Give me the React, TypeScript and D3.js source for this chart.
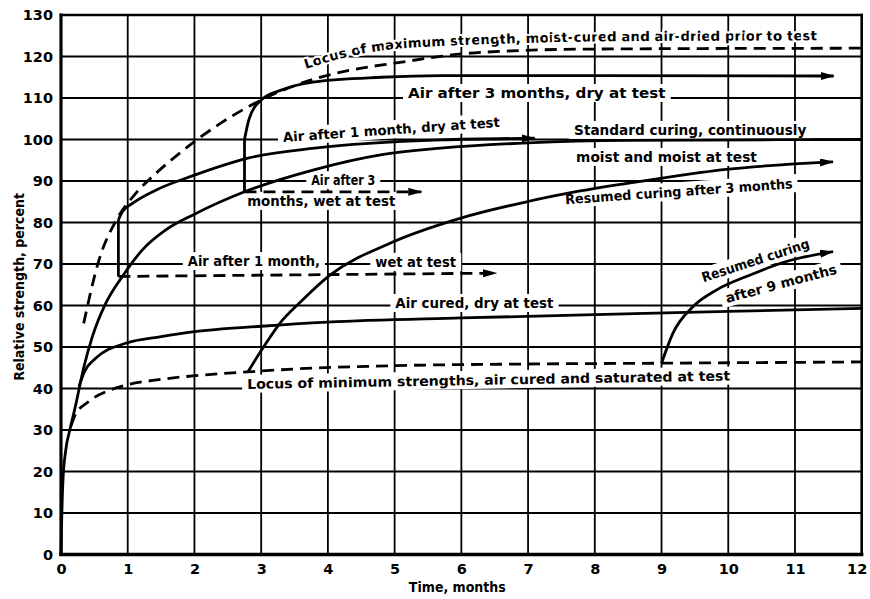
import { useEffect, useRef } from "react"
import * as d3 from "d3"

type Pt = [number, number]

// axis ticks
const xTicks = d3.range(0, 13)
const yTicks = d3.range(0, 131, 10)

// curves, [month, relative strength %]
const standardCuring: Pt[] = [
  [0, 0], [0.01, 8], [0.03, 18], [0.07, 25], [0.14, 30.5], [0.22, 36], [0.34, 45],
  [0.47, 52.5], [0.67, 60.5], [0.92, 67], [1.22, 73.4], [1.57, 78.2], [2, 82],
  [2.75, 87.4], [3.79, 92.7], [4.79, 96.3], [5.69, 97.9], [7, 99.2], [8.5, 99.8], [12, 100],
]
const airCured: Pt[] = [
  [0.27, 40.5], [0.35, 44], [0.52, 47.3], [0.97, 50.9], [1.5, 52.5], [2, 53.7],
  [3, 55], [4, 56], [6, 57], [8, 57.8], [10, 58.6], [12, 59.3],
]
const locusMin: Pt[] = [
  [0.15, 31], [0.2, 33.2], [0.41, 36.8], [0.7, 39.4], [0.92, 40.6], [1.5, 42.2],
  [2.17, 43.3], [2.8, 44], [3.5, 44.7], [5, 45.5], [7, 45.9], [9, 46.1], [12, 46.4],
]
const locusMax: Pt[] = [
  [0.34, 55.7], [0.57, 71], [0.83, 80.6], [1.12, 87], [1.42, 91.8], [1.8, 97],
  [2.4, 104], [3, 109.5], [3.8, 114.6], [4.3, 116.6], [5, 118.4], [6.3, 121],
  [8, 121.8], [12, 122],
]
const airAfter1Step: Pt[] = [[0.86, 67], [0.86, 80.6]]
const airAfter1Dry: Pt[] = [
  [0.86, 80.6], [0.92, 82.6], [1.07, 84.6], [1.42, 87.8], [2, 91.4], [2.8, 95.5],
  [3.8, 97.9], [5.7, 99.9], [7.1, 100.3],
]
const airAfter1Wet: Pt[] = [[0.86, 67], [6.52, 67.8]]
const airAfter3Step: Pt[] = [[2.75, 87.4], [2.75, 100]]
const airAfter3Dry: Pt[] = [
  [2.75, 100], [2.82, 105], [3, 109.5], [3.3, 111.9], [3.8, 113.9], [4.8, 115],
  [5.7, 115.4], [8, 115.4], [11.58, 115.3],
]
const airAfter3Wet: Pt[] = [[2.75, 87.4], [5.4, 87.4]]
const resumed3: Pt[] = [
  [2.8, 44], [3.04, 50.1], [3.28, 55.7], [3.6, 61], [4.03, 67.3], [4.93, 75],
  [5.98, 81], [6.98, 85], [7.78, 87.6], [9, 90.7], [9.97, 92.8], [11.57, 94.6],
]
const resumed9: Pt[] = [
  [9, 46.1], [9.17, 53.3], [9.47, 59.7], [9.82, 63.7], [10.32, 67.3], [10.87, 70.6], [11.57, 73],
]

// annotation text: start month, baseline value, horizontal length in months, angle
const labelText = [
  "Air after 3 months, dry at test",
  "Air after 1 month, dry at test",
  "Standard curing, continuously",
  "moist and moist at test",
  "Air after 3",
  "months, wet at test",
  "Resumed curing after 3 months",
  "Air after 1 month,",
  "wet at test",
  "Air cured, dry at test",
  "Locus of minimum strengths, air cured and saturated at test",
  "Resumed curing",
  "after 9 months",
]
const labelX = [5.2, 3.33, 7.69, 7.72, 3.75, 2.79, 7.56, 1.9, 4.71, 5.01, 2.79, 9.63, 9.98]
const labelY = [110, 99.4, 101.1, 94.6, 89, 84, 84.4, 69.5, 69.3, 59.4, 39.9, 65.6, 60.6]
const labelLen = [3.86, 3.25, 3.48, 2.71, 0.96, 2.22, 3.41, 1.98, 1.21, 2.37, 7.24, 1.6, 1.66]
const labelAngle = [0, -4, 0, 0, 0, 0, -4, 0, 0, 0, -1, -18, -15]

const locusMaxText = "Locus of maximum strength, moist-cured and air-dried prior to test"
const locusMaxTextPath: Pt[] = [
  [3.67, 117], [4.29, 119.9], [4.74, 121.3], [5.79, 122.6], [6.88, 123.2],
  [7.78, 123.6], [11.33, 123.9],
]

const W = 870
const H = 599
const FONT = "'DejaVu Sans Condensed', 'DejaVu Sans', sans-serif"

export default function App() {
  const svgRef = useRef<SVGSVGElement>(null)

  useEffect(() => {
    if (!svgRef.current) return
    const svg = d3.select(svgRef.current)
    svg.selectAll("*").remove()

    const x = d3.scaleLinear().domain([0, 12]).range([61, 861.7])
    const y = d3.scaleLinear().domain([0, 130]).range([554.5, 15])

    const defs = svg.append("defs")
    defs
      .append("marker")
      .attr("id", "arrow")
      .attr("viewBox", "0 0 14 8")
      .attr("refX", 13)
      .attr("refY", 4)
      .attr("markerWidth", 14)
      .attr("markerHeight", 8)
      .attr("markerUnits", "userSpaceOnUse")
      .attr("orient", "auto")
      .append("path")
      .attr("d", "M0,0L14,4L0,8Z")
      .attr("fill", "#000")

    const gGrid = svg.append("g")
    const gBg = svg.append("g")
    const gCurves = svg.append("g")
    const gText = svg.append("g")

    // grid
    gGrid
      .selectAll("line.v")
      .data(xTicks.slice(1, -1))
      .join("line")
      .attr("class", "v")
      .attr("x1", (d) => x(d))
      .attr("x2", (d) => x(d))
      .attr("y1", y(0))
      .attr("y2", y(130))
      .attr("stroke", "#000")
      .attr("stroke-width", 1.8)
    gGrid
      .selectAll("line.h")
      .data(yTicks.slice(1, -1))
      .join("line")
      .attr("class", "h")
      .attr("x1", x(0))
      .attr("x2", x(12))
      .attr("y1", (d) => y(d))
      .attr("y2", (d) => y(d))
      .attr("stroke", "#000")
      .attr("stroke-width", 1.8)

    // frame
    const frame = [
      { x1: 0, y1: 130, x2: 12, y2: 130, w: 2.6 },
      { x1: 12, y1: 0, x2: 12, y2: 130, w: 2.6 },
      { x1: 0, y1: 0, x2: 0, y2: 130, w: 3.2 },
      { x1: 0, y1: 0, x2: 12, y2: 0, w: 3.4 },
    ]
    gGrid
      .selectAll("line.f")
      .data(frame)
      .join("line")
      .attr("x1", (d) => x(d.x1))
      .attr("x2", (d) => x(d.x2))
      .attr("y1", (d) => y(d.y1))
      .attr("y2", (d) => y(d.y2))
      .attr("stroke", "#000")
      .attr("stroke-width", (d) => d.w)
      .attr("stroke-linecap", "square")

    // tick labels
    const xAxis = svg
      .append("g")
      .attr("transform", `translate(0,${y(0)})`)
      .call(d3.axisBottom(x).tickValues(xTicks).tickSize(0).tickPadding(9).tickFormat(d3.format("d")))
    const yAxis = svg
      .append("g")
      .attr("transform", `translate(${x(0)},0)`)
      .call(d3.axisLeft(y).tickValues(yTicks).tickSize(0).tickPadding(8).tickFormat(d3.format("d")))
    for (const a of [xAxis, yAxis]) {
      a.select(".domain").remove()
      a.selectAll("text")
        .attr("font-family", "'DejaVu Sans', sans-serif")
        .attr("font-weight", "bold")
        .attr("font-size", 14.5)
        .attr("fill", "#000")
    }
    // keep the last month inside the page
    xAxis.selectAll<SVGTextElement, number>("text").filter((d) => d === 12).attr("dx", -5)

    svg
      .append("text")
      .attr("x", (x(5) + x(7)) / 2 - 4)
      .attr("y", 592)
      .attr("text-anchor", "middle")
      .attr("font-family", FONT)
      .attr("font-weight", "bold")
      .attr("font-size", 14)
      .text("Time, months")
    svg
      .append("text")
      .attr("transform", `translate(24,${y(64.5)})rotate(-90)`)
      .attr("text-anchor", "middle")
      .attr("font-family", FONT)
      .attr("font-weight", "bold")
      .attr("font-size", 14)
      .text("Relative strength, percent")

    // labels with white boxes that break the grid
    labelText.forEach((t, i) => {
      const tx = `translate(${x(labelX[i])},${y(labelY[i])})rotate(${labelAngle[i]})`
      const len = x(labelX[i] + labelLen[i]) - x(labelX[i])
      const g = gText.append("g").attr("transform", tx)
      const txt = g
        .append("text")
        .attr("font-family", FONT)
        .attr("font-weight", "bold")
        .attr("font-size", 13.5)
        .attr("textLength", len / Math.cos((labelAngle[i] * Math.PI) / 180))
        .attr("lengthAdjust", "spacingAndGlyphs")
        .text(t)
      const b = (txt.node() as SVGTextElement).getBBox()
      gBg
        .append("g")
        .attr("transform", tx)
        .append("rect")
        .attr("x", b.x - 5)
        .attr("y", b.y - 1)
        .attr("width", b.width + 10)
        .attr("height", b.height + 2)
        .attr("fill", "#fff")
    })

    // curved label of the maximum locus
    const lineGen = d3
      .line<Pt>()
      .x((d) => x(d[0]))
      .y((d) => y(d[1]))
      .curve(d3.curveMonotoneX)
    const tp = defs.append("path").attr("id", "locusMaxPath").attr("d", lineGen(locusMaxTextPath))
    const tpLen = (tp.node() as SVGPathElement).getTotalLength()
    gText
      .append("text")
      .attr("font-family", FONT)
      .attr("font-weight", "bold")
      .attr("font-size", 13)
      .attr("stroke", "#fff")
      .attr("stroke-width", 4)
      .attr("paint-order", "stroke")
      .append("textPath")
      .attr("href", "#locusMaxPath")
      .attr("textLength", tpLen)
      .attr("lengthAdjust", "spacingAndGlyphs")
      .text(locusMaxText)

    // curves
    const straight = d3
      .line<Pt>()
      .x((d) => x(d[0]))
      .y((d) => y(d[1]))
    const curves: { pts: Pt[]; dashed?: boolean; arrow?: boolean; lin?: boolean }[] = [
      { pts: standardCuring },
      { pts: airCured },
      { pts: locusMin, dashed: true },
      { pts: locusMax, dashed: true },
      { pts: airAfter1Step, lin: true },
      { pts: airAfter1Dry, arrow: true },
      { pts: airAfter1Wet, dashed: true, arrow: true, lin: true },
      { pts: airAfter3Step, lin: true },
      { pts: airAfter3Dry, arrow: true },
      { pts: airAfter3Wet, dashed: true, arrow: true, lin: true },
      { pts: resumed3, arrow: true },
      { pts: resumed9, arrow: true },
    ]
    gCurves
      .selectAll("path")
      .data(curves)
      .join("path")
      .attr("d", (d) => (d.lin ? straight(d.pts) : lineGen(d.pts)))
      .attr("fill", "none")
      .attr("stroke", "#000")
      .attr("stroke-width", 2.8)
      .attr("stroke-dasharray", (d) => (d.dashed ? "12,7" : null))
      .attr("marker-end", (d) => (d.arrow ? "url(#arrow)" : null))
  }, [])

  return (
    <svg
      ref={svgRef}
      width={W}
      height={H}
      style={{ position: "absolute", left: 0, top: 0, background: "#fff" }}
    />
  )
}
